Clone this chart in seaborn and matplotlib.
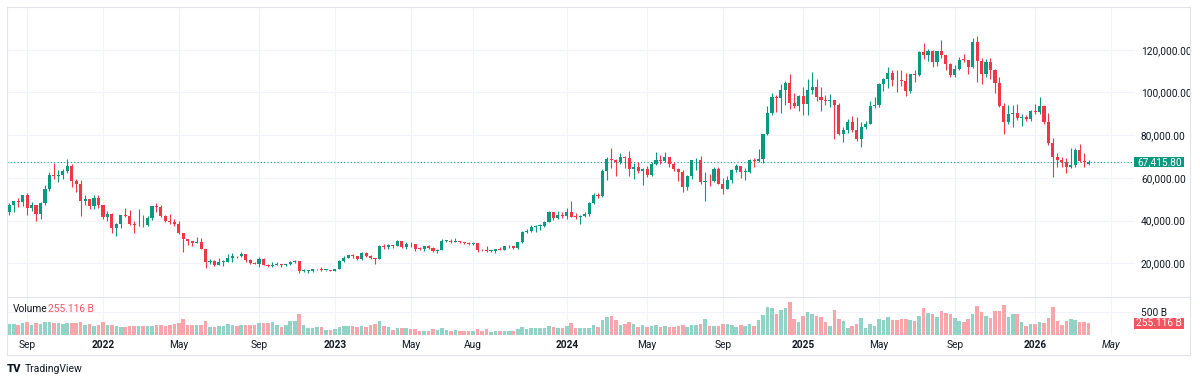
import matplotlib
matplotlib.use("Agg")
import matplotlib.pyplot as plt
import matplotlib.dates as mdates
import matplotlib.ticker as ticker
import matplotlib.transforms as mtransforms
from matplotlib.patches import Rectangle
from matplotlib.lines import Line2D
import seaborn as sns
import numpy as np
import pandas as pd

#
# 01. Dados - velas semanais (preço em milhares de USD, volume em bilhões)
#
inicio = "2021-08-09"
abertura_inicial = 43.8
abertura_ultima = 66.5

fechamento = [
    47.1, 49.3, 48.8, 51.8, 46.0, 47.3, 43.2, 48.2, 54.7, 61.5,
    60.9, 61.3, 63.3, 65.5, 58.7, 57.3, 49.4, 50.1, 46.7, 50.8, 47.3,
    41.9, 43.1, 36.3, 38.5, 42.4, 42.2, 38.4, 37.7, 38.0, 37.8,
    41.3, 46.8, 46.4, 42.2, 39.7, 39.4, 38.5, 34.1, 31.3, 30.3,
    29.4, 29.9, 26.6, 20.6, 21.0, 19.3, 20.8, 20.8, 22.6, 23.3,
    23.2, 24.3, 21.5, 20.0, 19.8, 21.8, 19.4, 18.8, 19.3, 19.4,
    19.2, 19.6, 20.6, 20.9, 16.3, 16.3, 16.5, 17.1, 17.1, 16.8, 16.8, 16.6,
    17.1, 20.9, 22.7, 23.7, 23.3, 21.8, 24.6, 23.5, 22.4, 22.1,
    28.0, 27.5, 28.5, 28.3, 30.3, 27.6, 29.2, 28.9, 26.9, 26.7,
    28.1, 27.2, 25.9, 26.3, 30.5, 30.6, 30.2, 30.3, 29.9, 29.3,
    29.0, 29.4, 26.1, 26.0, 25.8, 25.8, 26.5, 26.3, 27.9, 27.9,
    27.2, 29.9, 34.5, 35.0, 37.1, 37.4, 37.4, 39.5, 43.8, 41.4, 42.6, 42.3,
    43.9, 41.7, 41.6, 42.0, 43.0, 48.3, 52.1, 51.7, 63.1, 68.9,
    68.4, 67.2, 69.7, 69.4, 64.0, 64.9, 63.1, 64.0, 61.5, 66.3,
    68.5, 67.8, 69.6, 66.7, 64.3, 62.7, 55.8, 60.8, 68.2, 68.3,
    58.2, 58.7, 58.4, 64.2, 57.3, 54.8, 59.2, 63.6, 65.6, 62.8,
    62.9, 68.4, 67.9, 68.8, 80.4, 90.6, 97.9, 97.3, 101.2, 104.5, 95.2, 93.7, 98.4,
    94.5, 101.1, 102.6, 97.7, 96.5, 96.1, 96.3, 94.2, 80.7, 82.6,
    86.1, 82.4, 78.4, 83.7, 85.2, 93.7, 94.3, 104.1, 106.5, 109.0,
    105.7, 105.6, 105.5, 100.9, 108.4, 108.2, 119.1, 117.3, 119.4, 114.2,
    119.3, 117.5, 113.5, 108.2, 111.1, 115.3, 115.1, 112.1, 123.5, 114.9,
    108.6, 114.4, 110.5, 104.6, 93.7, 86.3, 89.9, 90.5, 88.0, 88.4, 87.4, 91.3,
    90.9, 93.6, 86.3, 76.2, 70.0, 68.4, 67.6, 65.2, 65.8, 73.0, 67.8, 67.6, 67.4158,
]

maxima = [
    48.1, 49.4, 50.5, 52.0, 52.9, 48.8, 47.4, 48.5, 56.6, 62.9,
    67.0, 63.7, 64.3, 69.0, 66.3, 59.4, 59.0, 51.9, 50.3, 51.9, 52.1,
    47.5, 44.4, 43.5, 38.9, 42.5, 45.8, 44.8, 39.8, 45.4, 42.6,
    42.3, 46.9, 48.2, 47.2, 42.4, 42.9, 40.8, 40.0, 34.2, 31.4,
    30.5, 32.2, 31.7, 26.8, 21.9, 21.5, 22.5, 21.5, 24.3, 24.6,
    23.6, 25.2, 24.4, 21.9, 20.6, 22.8, 22.7, 19.9, 20.4, 20.4,
    19.9, 19.7, 21.1, 21.5, 21.0, 17.1, 16.8, 17.4, 17.4, 18.4, 17.0, 16.9,
    17.2, 21.4, 23.4, 23.8, 24.2, 23.4, 25.2, 25.1, 23.9, 22.6,
    28.4, 28.9, 29.2, 28.8, 31.0, 30.5, 30.0, 29.8, 29.0, 27.6,
    28.2, 28.4, 27.4, 26.8, 31.4, 31.0, 31.4, 31.8, 30.4, 29.9,
    29.8, 30.2, 29.7, 26.8, 28.1, 26.4, 26.9, 27.5, 28.0, 28.6,
    27.9, 30.0, 35.2, 35.9, 38.0, 37.9, 38.4, 39.7, 44.7, 44.0, 44.4, 43.8,
    45.9, 49.0, 43.6, 42.8, 43.9, 48.6, 52.8, 52.9, 64.0, 70.0,
    73.8, 68.9, 71.8, 70.3, 72.8, 66.9, 67.2, 64.7, 65.5, 67.5,
    71.9, 70.6, 72.0, 70.0, 67.3, 64.4, 63.8, 61.4, 68.4, 69.4,
    70.1, 62.7, 61.8, 65.0, 64.9, 59.8, 60.7, 64.1, 66.5, 65.6,
    64.5, 69.0, 69.5, 73.6, 80.5, 93.5, 99.6, 98.7, 104.0, 105.3, 108.4, 99.9, 99.0,
    102.7, 106.4, 109.6, 106.5, 102.5, 98.8, 99.5, 96.5, 95.0, 84.0,
    87.5, 88.8, 88.5, 86.1, 86.4, 95.8, 97.9, 104.3, 106.6, 112.0,
    110.7, 110.5, 110.6, 108.9, 108.5, 110.5, 119.5, 123.2, 120.2, 120.0,
    119.3, 124.5, 117.6, 113.6, 112.9, 116.6, 117.9, 115.4, 125.7, 126.2,
    116.0, 115.5, 116.0, 111.2, 107.4, 95.0, 94.1, 94.1, 94.6, 90.0, 89.4, 91.8,
    94.6, 98.0, 93.9, 90.5, 78.5, 71.5, 69.9, 69.1, 73.8, 73.8, 75.9, 71.5, 68.2,
]

minima = [
    42.8, 43.9, 46.4, 46.6, 42.8, 44.7, 39.6, 40.8, 47.1, 53.9,
    59.5, 58.0, 59.4, 62.3, 55.6, 53.3, 42.0, 47.1, 45.5, 45.6, 45.7,
    40.6, 39.7, 34.0, 33.0, 36.3, 41.7, 38.0, 34.3, 37.5, 37.2,
    37.6, 40.5, 44.2, 41.9, 39.2, 38.5, 37.6, 33.7, 25.4, 28.7,
    28.0, 29.3, 26.5, 17.6, 19.7, 18.6, 19.0, 18.9, 20.8, 20.7,
    22.4, 22.8, 20.8, 19.6, 19.5, 18.5, 19.3, 18.2, 18.5, 19.2,
    18.2, 18.9, 19.2, 20.2, 15.6, 15.8, 15.5, 16.0, 16.7, 16.3, 16.4, 16.4,
    16.5, 17.1, 20.4, 22.3, 22.6, 21.4, 21.4, 23.0, 21.9, 19.6,
    21.9, 26.6, 26.5, 27.2, 28.2, 27.1, 26.9, 27.7, 25.8, 26.1,
    25.9, 26.6, 25.3, 24.8, 26.2, 29.9, 29.7, 30.0, 29.6, 28.9,
    28.6, 28.8, 25.2, 25.8, 25.4, 25.4, 24.9, 26.3, 26.0, 27.2,
    26.5, 26.9, 29.7, 34.1, 34.5, 34.8, 35.6, 37.2, 39.5, 40.2, 40.6, 41.3,
    40.8, 41.5, 40.6, 38.5, 41.8, 42.3, 47.6, 50.6, 50.9, 59.0,
    64.5, 60.8, 66.6, 64.5, 60.7, 59.6, 62.5, 56.6, 60.2, 60.8,
    66.0, 66.7, 67.5, 65.1, 63.4, 58.5, 53.5, 54.3, 59.7, 63.5,
    57.1, 49.1, 56.1, 57.9, 57.2, 52.6, 54.6, 57.5, 62.7, 59.8,
    58.9, 62.4, 65.0, 67.5, 66.8, 80.2, 89.4, 90.8, 90.5, 94.2, 92.2, 92.6, 91.4,
    89.3, 89.3, 99.5, 96.2, 91.2, 94.0, 93.4, 78.2, 80.1, 76.6,
    81.2, 81.6, 77.2, 74.4, 83.1, 85.1, 92.8, 93.4, 100.8, 102.1,
    103.0, 100.4, 102.8, 98.2, 99.6, 105.1, 107.5, 115.7, 114.7, 112.0,
    112.6, 115.9, 110.6, 107.3, 107.3, 110.6, 114.4, 108.6, 111.6, 104.8,
    103.9, 107.4, 106.3, 99.6, 93.0, 80.5, 85.3, 84.0, 87.1, 84.3, 86.8, 86.8,
    89.9, 90.0, 85.2, 75.4, 60.2, 65.2, 65.0, 62.4, 64.6, 65.2, 67.5, 65.2, 66.0,
]

volume = [
    242, 242, 227, 264, 286, 227, 271, 249, 279, 279,
    271, 257, 249, 264, 264, 257, 279, 227, 242, 191,
    220, 279, 220, 213, 191, 169, 169, 198, 198, 191,
    198, 198, 198, 227, 213, 205, 213, 235, 257, 352,
    213, 213, 213, 227, 308, 183, 169, 198, 198, 235,
    227, 191, 213, 213, 227, 213, 257, 271, 271, 286,
    227, 183, 213, 301, 315, 462, 213, 161, 147, 169,
    169, 110, 110, 132, 183, 198, 198, 198, 183, 198,
    183, 213, 242, 308, 198, 169, 117, 147, 147, 147,
    132, 132, 95, 95, 95, 132, 117, 147, 117, 95,
    117, 95, 95, 95, 95, 132, 95, 132, 73, 95,
    95, 81, 95, 81, 132, 176, 132, 147, 161, 147,
    147, 191, 176, 161, 161, 205, 264, 147, 161, 161,
    161, 220, 176, 323, 396, 410, 323, 220, 235, 293,
    249, 176, 220, 176, 191, 220, 176, 191, 176, 176,
    205, 220, 176, 220, 220, 249, 352, 191, 205, 205,
    235, 235, 220, 176, 220, 205, 235, 205, 323, 440,
    616, 601, 469, 557, 586, 733, 352, 293, 425, 498,
    469, 410, 396, 279, 205, 542, 352, 308, 161, 191,
    235, 367, 161, 249, 191, 352, 337, 396, 337, 323,
    352, 352, 323, 308, 410, 601, 484, 469, 396, 528,
    484, 454, 367, 308, 293, 352, 454, 630, 498, 425,
    367, 528, 528, 660, 396, 454, 454, 279, 205, 235,
    249, 293, 264, 381, 616, 308, 220, 308, 352, 323,
    293, 279, 255.116,
]

# Eixo do tempo
datas_ticks = ["2021-09-06", "2022-01-03", "2022-05-02", "2022-09-05", "2023-01-02",
               "2023-05-01", "2023-08-07", "2024-01-01", "2024-05-06", "2024-09-02",
               "2025-01-06", "2025-05-05", "2025-09-01", "2026-01-05", "2026-05-04"]
rotulos_ticks = ["Sep", "2022", "May", "Sep", "2023", "May", "Aug", "2024",
                 "May", "Sep", "2025", "May", "Sep", "2026", "May"]
ticks_preco = [20, 40, 60, 80, 100, 120]
ticks_volume = [500]
preco_atual = 67.4158
volume_atual = 255.116

#
# 02. Cores
#
VERDE = "#089981"
VERMELHO = "#f23645"
VERDE_VOL = "#92d3c7"
VERMELHO_VOL = "#f8a6ac"
CAIXA_VOL = "#f7525f"
TEXTO = "#131722"
GRADE = "#f0f3fa"
BORDA = "#e0e3eb"
TAM_FONTE = 7.3

#
# 03. Preparação
#
assert len(fechamento) == len(maxima) == len(minima) == len(volume)
abertura = [abertura_inicial] + fechamento[:-2] + [abertura_ultima]

datas = pd.date_range(inicio, periods=len(fechamento), freq="7D")
x = mdates.date2num(datas)
o = np.array(abertura)
h = np.array(maxima)
l = np.array(minima)
c = np.array(fechamento)
sobe = c >= o
cores = np.where(sobe, VERDE, VERMELHO)

fech_anterior = np.r_[o[0], c[:-1]]
df_vol = pd.DataFrame({"x": x,
                       "volume": volume,
                       "direcao": np.where(c >= fech_anterior, "alta", "baixa")})

#
# 04. Tema
#
sns.set_theme(style="white")
plt.rcParams["font.family"] = ["Roboto", "DejaVu Sans"]

W, H = 1200, 382
fig = plt.figure(figsize=(W / 100, H / 100), dpi=100)
ax = fig.add_axes([7 / W, 1 - 297 / H, 1128 / W, 290 / H])
axv = fig.add_axes([7 / W, 1 - 335 / H, 1128 / W, 38 / H])

#
# 05. Velas
#
ax.vlines(x, l, h, colors=cores, linewidth=0.8, zorder=2)
ax.bar(x, np.maximum(np.abs(c - o), 0.35), bottom=np.minimum(o, c),
       width=4.9, color=cores, linewidth=0, zorder=3)

# Linha do preço atual
ax.axhline(preco_atual, color=VERDE, linestyle=(0, (1, 2)), linewidth=0.8, zorder=1)

#
# 06. Volume
#
sns.barplot(data=df_vol, x="x", y="volume", hue="direcao",
            palette={"alta": VERDE_VOL, "baixa": VERMELHO_VOL},
            native_scale=True, width=0.8, errorbar=None, legend=False,
            saturation=1, linewidth=0, ax=axv)

#
# 07. Eixos
#
x_ini = x[0] - 3.6
x_fim = x[0] + 1766.8
ticks_x = mdates.date2num(pd.to_datetime(datas_ticks))

for a in (ax, axv):
    a.set_xticks(ticks_x)
    a.set_xlim(x_ini, x_fim)
    a.grid(True, color=GRADE, linewidth=0.8)
    a.set_axisbelow(True)
    for s in a.spines.values():
        s.set_visible(False)
    a.yaxis.tick_right()
    a.tick_params(length=0, labelsize=TAM_FONTE, labelcolor=TEXTO)
    a.tick_params(axis="y", pad=4.3)
    a.set_xlabel("")
    a.set_ylabel("")

ax.set_ylim(4.22, 140.0)
ax.set_yticks(ticks_preco)
ax.yaxis.set_major_formatter(ticker.FuncFormatter(lambda v, _: f"{v * 1000:,.2f}"))
ax.tick_params(labelbottom=False)

axv.set_ylim(0, 837)
axv.set_yticks(ticks_volume)
axv.set_yticklabels([f"{v} B" for v in ticks_volume])
axv.set_xticklabels(rotulos_ticks)
axv.tick_params(axis="x", pad=3.5)
for rot in axv.get_xticklabels():
    if rot.get_text().isdigit():
        rot.set_fontweight("bold")
axv.get_xticklabels()[-1].set_fontstyle("italic")

#
# 08. Caixas de valor na escala
#
largura_caixa = 50 / 1128
trans_p = mtransforms.blended_transform_factory(ax.transAxes, ax.transData)
ax.add_patch(Rectangle((0.9995, preco_atual - 2.5), largura_caixa, 5.0,
                       transform=trans_p, facecolor=VERDE, edgecolor="none",
                       clip_on=False, zorder=5))
ax.text(0.9995 + largura_caixa / 2, preco_atual, f"{preco_atual * 1000:,.2f}",
        transform=trans_p, ha="center", va="center", color="white",
        fontsize=TAM_FONTE, zorder=6, clip_on=False)

trans_v = mtransforms.blended_transform_factory(axv.transAxes, axv.transData)
axv.add_patch(Rectangle((0.9995, volume_atual - 124), largura_caixa, 248,
                        transform=trans_v, facecolor=CAIXA_VOL, edgecolor="none",
                        clip_on=False, zorder=5))
axv.text(0.9995 + largura_caixa / 2, volume_atual, f"{volume_atual:.3f} B",
         transform=trans_v, ha="center", va="center", color="white",
         fontsize=TAM_FONTE, zorder=6, clip_on=False)

# Legenda do volume
axv.text(6 / 1128, 0.68, "Volume", transform=axv.transAxes,
         ha="left", va="center", color=TEXTO, fontsize=TAM_FONTE)
axv.text(41 / 1128, 0.68, f"{volume_atual:.3f} B", transform=axv.transAxes,
         ha="left", va="center", color=CAIXA_VOL, fontsize=TAM_FONTE)

#
# 09. Moldura e logotipo
#
fig.add_artist(Rectangle((7 / W, 1 - 355 / H), 1183 / W, 348 / H,
                         transform=fig.transFigure, fill=False,
                         edgecolor=BORDA, linewidth=0.8))
fig.add_artist(Line2D([7 / W, 1190 / W], [1 - 297 / H, 1 - 297 / H],
                      transform=fig.transFigure, color=BORDA, linewidth=0.8))
fig.text(7 / W, 1 - 369 / H, "TV", ha="left", va="center",
         fontsize=8, fontweight="heavy", color=TEXTO)
fig.text(25 / W, 1 - 369 / H, "TradingView", ha="left", va="center",
         fontsize=7.5, color=TEXTO)

#
# 10. Gerando imagem
#
fig.savefig("out.png", dpi=100, facecolor="white")
